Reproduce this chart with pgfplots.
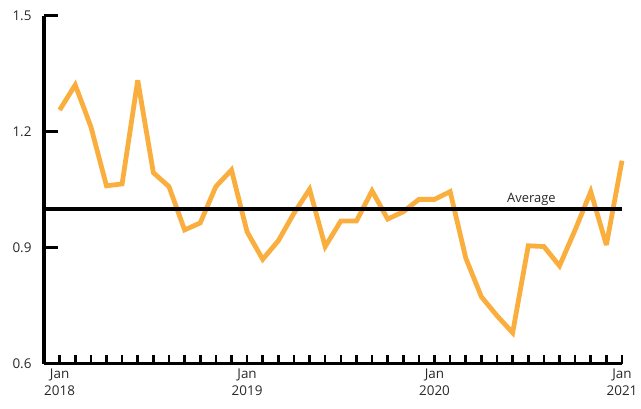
\documentclass[border=0pt]{standalone}
\usepackage{fontspec}
\setmainfont{Open Sans}
\usepackage{pgfplots}
\pgfplotsset{compat=1.18}
\definecolor{lineorange}{RGB}{250,174,62}
\definecolor{txt}{RGB}{40,40,40}
\begin{document}
\begin{tikzpicture}
\begin{axis}[
  name=ax,
  scale only axis,
  width=578bp, height=348bp,
  xmin=-1, xmax=36,
  ymin=0.6, ymax=1.5,
  axis lines=left,
  axis line style={line width=3.2bp, -, black},
  xtick={0,12,24,36},
  xticklabels={{Jan\\2018},{Jan\\2019},{Jan\\2020},{Jan\\2021}},
  xticklabel style={align=center, font=\fontsize{13.5}{16.5}\selectfont, text=txt, yshift=-2bp},
  minor xtick={0,...,36},
  ytick={0.6,0.9,1.2,1.5},
  yticklabel style={font=\fontsize{13.5}{16}\selectfont, text=txt, xshift=-9bp},
  /pgf/number format/.cd, fixed, fixed zerofill, precision=1, assume math mode=true,
  /pgfplots/.cd,
  tick align=inside,
  major tick length=14bp, minor tick length=8.5bp,
  major x tick style={draw=none},
  minor x tick style={line width=2.6bp, black},
  major y tick style={line width=2.6bp, black},
  clip=false,
]
\addplot[lineorange, line width=4.8bp, line join=miter, miter limit=4] coordinates {
(0,1.256) (1,1.321) (2,1.213) (3,1.060) (4,1.065) (5,1.333) (6,1.094) (7,1.058)
(8,0.946) (9,0.964) (10,1.058) (11,1.101) (12,0.941) (13,0.870) (14,0.918) (15,0.989)
(16,1.051) (17,0.903) (18,0.969) (19,0.969) (20,1.047) (21,0.974) (22,0.993) (23,1.025)
(24,1.025) (25,1.045) (26,0.873) (27,0.773) (28,0.724) (29,0.680) (30,0.905) (31,0.903)
(32,0.853) (33,0.946) (34,1.045) (35,0.907) (36,1.125)
};
\addplot[black, line width=3.3bp] coordinates {(-1,1) (36,1)};
\node[anchor=south, inner sep=1bp, font=\fontsize{13}{15}\selectfont, text=txt] at (axis cs:30.2,1.0) [yshift=2.5bp] {Average};
\end{axis}
\pgfresetboundingbox
\path[use as bounding box] ([xshift=-44bp,yshift=-45.3bp]ax.south west) rectangle ([xshift=19bp,yshift=15.7bp]ax.north east);
\end{tikzpicture}
\end{document}
